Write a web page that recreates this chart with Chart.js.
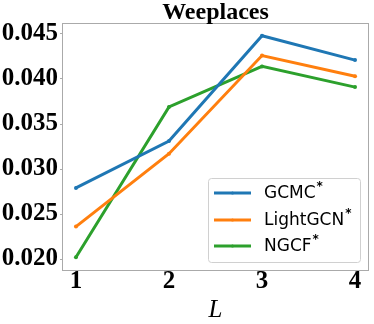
<!DOCTYPE html>
<html>
<head>
<meta charset="utf-8">
<script src="https://cdn.jsdelivr.net/npm/chart.js@4/dist/chart.umd.min.js"></script>
<style>
  html, body { margin: 0; padding: 0; background: #fff; }
  #wrap { width: 374px; height: 324px; }
</style>
</head>
<body>
<div id="wrap"><canvas id="myChart" width="374" height="324"></canvas></div>
<script>
// datos
const layers = [1, 2, 3, 4];
const gcmc = [0.0279, 0.0331, 0.0448, 0.0421];
const lightgcn = [0.0236, 0.0317, 0.0426, 0.0403];
const ngcf = [0.0202, 0.0369, 0.0414, 0.0391];
const seriesNames = ['GCMC', 'LightGCN', 'NGCF'];
const yTicks = [0.020, 0.025, 0.030, 0.035, 0.040, 0.045];

const colors = ['#1f77b4', '#ff7f0e', '#2ca02c'];
const serif = '"Liberation Serif", "DejaVu Serif", serif';
const sans = '"DejaVu Sans", sans-serif';

function toPoints(vals) {
    return layers.map((l, i) => ({ x: l, y: vals[i] }));
}

// titulo, marco y leyenda dibujados a mano
const extras = {
    id: 'extras',
    afterDatasetsDraw(chart) {
        const ctx = chart.ctx;
        const a = chart.chartArea;
        ctx.save();
        // marco
        ctx.strokeStyle = '#aaaaaa';
        ctx.lineWidth = 1;
        ctx.strokeRect(a.left + 0.5, a.top + 0.5, a.right - a.left - 1, a.bottom - a.top - 1);

        // titulo
        ctx.fillStyle = '#000';
        ctx.font = 'bold 24px ' + serif;
        ctx.textAlign = 'center';
        ctx.textBaseline = 'alphabetic';
        ctx.fillText('Weeplaces', (a.left + a.right) / 2, 19);

        // leyenda
        const bx = 208, by = 178, bw = 152, bh = 84;
        ctx.fillStyle = 'rgba(255,255,255,0.8)';
        ctx.strokeStyle = '#d0d0d0';
        ctx.beginPath();
        ctx.roundRect(bx + 0.5, by + 0.5, bw, bh, 3);
        ctx.fill();
        ctx.stroke();

        const rows = [193, 220, 246];
        seriesNames.forEach((name, i) => {
            const y = rows[i];
            ctx.strokeStyle = colors[i];
            ctx.lineWidth = 3;
            ctx.beginPath();
            ctx.moveTo(214, y);
            ctx.lineTo(251, y);
            ctx.stroke();
            ctx.fillStyle = colors[i];
            ctx.beginPath();
            ctx.arc(232.5, y, 1.5, 0, Math.PI * 2);
            ctx.fill();

            ctx.fillStyle = '#000';
            ctx.textAlign = 'left';
            ctx.textBaseline = 'middle';
            ctx.font = '17px ' + sans;
            ctx.fillText(name, 264, y + 1);
            const w = ctx.measureText(name).width;
            ctx.font = 'bold 12px ' + sans;
            ctx.fillText('*', 264 + w + 1, y - 6);
        });
        ctx.restore();
    }
};

const ctx = document.getElementById('myChart').getContext('2d');
new Chart(ctx, {
    type: 'line',
    data: {
        datasets: [gcmc, lightgcn, ngcf].map((vals, i) => ({
            label: seriesNames[i],
            data: toPoints(vals),
            borderColor: colors[i],
            backgroundColor: colors[i],
            borderWidth: 3,
            pointRadius: 2,
            pointHoverRadius: 2,
            pointBorderWidth: 0,
            tension: 0
        }))
    },
    options: {
        responsive: false,
        animation: false,
        events: [],
        layout: { padding: { top: 23, right: 5, left: 0, bottom: 0 } },
        plugins: {
            legend: { display: false },
            title: { display: false },
            tooltip: { enabled: false }
        },
        scales: {
            x: {
                type: 'linear',
                min: 0.85,
                max: 4.15,
                afterBuildTicks: s => { s.ticks = layers.map(v => ({ value: v })); },
                afterFit: s => { s.height = 53; },
                grid: { drawOnChartArea: false, tickLength: 2, color: '#aaaaaa' },
                border: { display: false },
                ticks: {
                    padding: -6,
                    color: '#000',
                    font: { family: serif, size: 25, weight: 'bold' },
                    callback: v => String(v)
                },
                title: {
                    display: true,
                    text: 'L',
                    color: '#000',
                    padding: { top: 0, bottom: -1 },
                    font: { family: serif, size: 25, style: 'italic' }
                }
            },
            y: {
                min: 0.01867,
                max: 0.04622,
                afterBuildTicks: s => { s.ticks = yTicks.map(v => ({ value: v })); },
                afterFit: s => { s.width = 62; },
                grid: { drawOnChartArea: false, tickLength: 2, color: '#aaaaaa' },
                border: { display: false },
                ticks: {
                    padding: 2,
                    color: '#000',
                    font: { family: serif, size: 25, weight: 'bold' },
                    callback: v => v.toFixed(3)
                }
            }
        }
    },
    plugins: [extras]
});
</script>
</body>
</html>
